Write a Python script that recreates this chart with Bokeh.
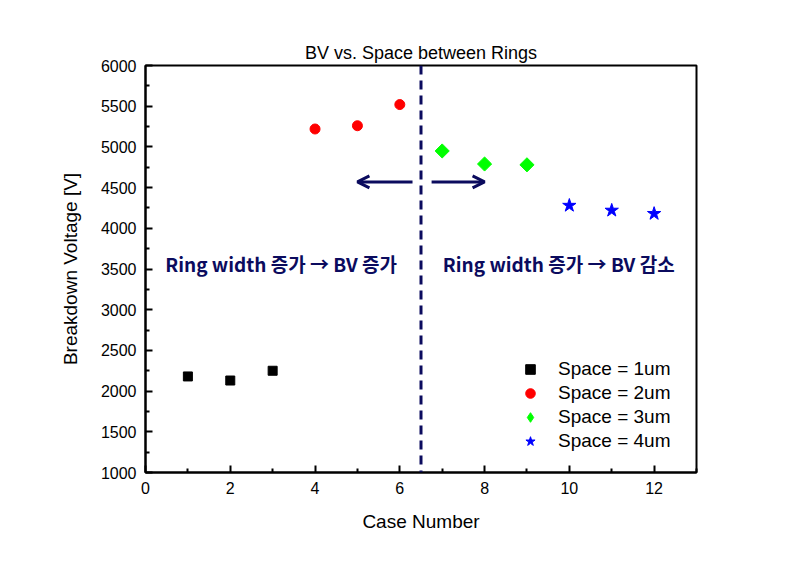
import math
from bokeh.plotting import figure
from bokeh.models import Range1d, FixedTicker, Span, Arrow, OpenHead, Legend, LegendItem, ColumnDataSource
from bokeh.core.properties import value
from bokeh.embed import file_html
from bokeh.resources import INLINE

# data
case_1um = [1, 2, 3]
bv_1um = [2180, 2130, 2250]
case_2um = [4, 5, 6]
bv_2um = [5220, 5260, 5520]
case_3um = [7, 8, 9]
bv_3um = [4950, 4790, 4780]
case_4um = [10, 11, 12]
bv_4um = [4280, 4220, 4180]
series_labels = ["Space = 1um", "Space = 2um", "Space = 3um", "Space = 4um"]

x_ticks = [0, 2, 4, 6, 8, 10, 12]
x_minor = [1, 3, 5, 7, 9, 11, 13]
y_ticks = list(range(1000, 6001, 500))
y_minor = list(range(1250, 6000, 500))

divider_x = 6.5
arrow_y = 4570
left_arrow = (6.3, 5.0)
right_arrow = (6.75, 8.0)
note_x = [3.2, 9.75]
note_y = [3570, 3570]
note_text = ["Ring width 증가 → BV 증가", "Ring width 증가 → BV 감소"]

navy = "#0b0b5e"
font = "Liberation Sans"

p = figure(width=792, height=551, output_backend="svg", toolbar_location=None,
           x_range=Range1d(0, 13), y_range=Range1d(1000, 6000),
           title="BV vs. Space between Rings",
           min_border_left=145, min_border_right=96, min_border_top=65, min_border_bottom=79)
p.title.align = "center"
p.title.text_font = font
p.title.text_font_style = "normal"
p.title.text_font_size = "18px"
p.title.text_color = "black"
p.title.offset = 0
p.title.standoff = 6
p.grid.visible = False
p.outline_line_color = "black"
p.outline_line_width = 2
p.outline_line_alpha = 1
p.background_fill_color = "white"
p.border_fill_color = "white"

p.xaxis.ticker = FixedTicker(ticks=x_ticks, minor_ticks=x_minor)
p.yaxis.ticker = FixedTicker(ticks=y_ticks, minor_ticks=y_minor)
for ax in (p.xaxis[0], p.yaxis[0]):
    ax.major_tick_in = 7
    ax.major_tick_out = 0
    ax.minor_tick_in = 4
    ax.minor_tick_out = 0
    ax.axis_line_width = 2
    ax.axis_line_color = "black"
    ax.major_tick_line_width = 2
    ax.minor_tick_line_width = 2
    ax.major_tick_line_color = "black"
    ax.minor_tick_line_color = "black"
    ax.major_label_text_font = font
    ax.major_label_text_font_size = "16px"
    ax.major_label_text_color = "black"
    ax.axis_label_text_font = font
    ax.axis_label_text_font_style = "normal"
    ax.axis_label_text_font_size = "19px"
    ax.axis_label_text_color = "black"
p.xaxis.axis_label = "Case Number"
p.yaxis.axis_label = "Breakdown Voltage [V]"
p.xaxis.major_label_standoff = 9
p.yaxis.major_label_standoff = 9
p.xaxis.axis_label_standoff = 14
p.yaxis.axis_label_standoff = 17

r1 = p.scatter(case_1um, bv_1um, marker="square", size=9, color="black")
r2 = p.scatter(case_2um, bv_2um, marker="circle", size=10, color="red")
r3 = p.scatter(case_3um, bv_3um, marker="square", size=10, angle=math.pi / 4, color="#00ff00")
r4 = p.scatter(case_4um, bv_4um, marker="star", size=14, color="blue")
# legend proxy for the diamond (legend markers ignore rotation)
r3_leg = p.scatter([float("nan")], [float("nan")], marker="diamond", size=14, color="#00ff00")

p.add_layout(Span(location=divider_x, dimension="height", line_color=navy,
                  line_width=3, line_dash="9 6"))
p.add_layout(Arrow(x_start=left_arrow[0], y_start=arrow_y, x_end=left_arrow[1], y_end=arrow_y,
                   line_color=navy, line_width=3,
                   end=OpenHead(size=12, line_color=navy, line_width=3)))
p.add_layout(Arrow(x_start=right_arrow[0], y_start=arrow_y, x_end=right_arrow[1], y_end=arrow_y,
                   line_color=navy, line_width=3,
                   end=OpenHead(size=12, line_color=navy, line_width=3)))

src = ColumnDataSource(dict(x=note_x, y=note_y, t=note_text))
p.text(x="x", y="y", text="t", source=src, text_align="center", text_baseline="middle",
       text_font=value("Noto Sans CJK KR"), text_font_style="bold",
       text_font_size="19px", text_color=navy)

legend = Legend(items=[LegendItem(label=series_labels[0], renderers=[r1]),
                       LegendItem(label=series_labels[1], renderers=[r2]),
                       LegendItem(label=series_labels[2], renderers=[r3_leg]),
                       LegendItem(label=series_labels[3], renderers=[r4])],
                location=(373, 19))
legend.border_line_color = None
legend.background_fill_alpha = 0
legend.padding = 0
legend.margin = 0
legend.spacing = 0
legend.glyph_width = 24
legend.glyph_height = 24
legend.label_height = 24
legend.label_standoff = 16
legend.label_text_font = font
legend.label_text_font_size = "19px"
legend.label_text_color = "black"
p.add_layout(legend)

open("out.html", "w").write(file_html(p, INLINE))
